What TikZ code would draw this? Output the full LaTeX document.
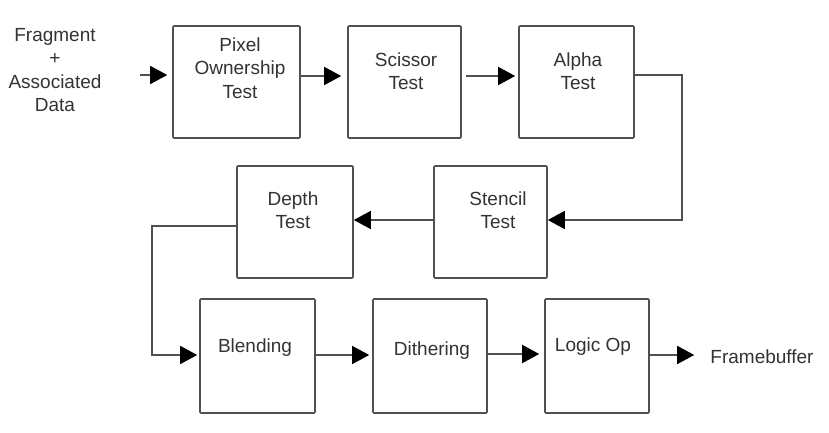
\documentclass[tikz,border=0pt]{standalone}
\usepackage{fontspec}
\setmainfont{Liberation Sans}
\usetikzlibrary{arrows.meta}
\definecolor{boxline}{HTML}{505050}
\definecolor{txt}{HTML}{333333}
\tikzset{
  stage/.style={draw=boxline, line width=1.6pt, rounded corners=1pt, minimum height=112pt, inner sep=0pt},
  lbl/.style={text=txt, font=\fontsize{19}{23.5}\selectfont, align=center, inner sep=2pt},
  arr/.style={draw=boxline, line width=1.5pt, -{Triangle[length=17pt,width=18pt,color=black,fill=black]}}
}
\begin{document}
\begin{tikzpicture}[x=1pt,y=-1pt]
\useasboundingbox[fill=white] (0,0) rectangle (829,433);
% boxes
\node[stage, minimum width=127pt] (pix) at (236.5,82) {};
\node[stage, minimum width=113pt] (sci) at (404.5,82) {};
\node[stage, minimum width=115pt] (alp) at (576.5,82) {};
\node[stage, minimum width=113pt] (ste) at (490.5,222) {};
\node[stage, minimum width=116pt] (dep) at (295,222) {};
\node[stage, minimum width=115pt, minimum height=114pt] (ble) at (257.5,356) {};
\node[stage, minimum width=114pt, minimum height=114pt] (dit) at (430,356) {};
\node[stage, minimum width=104pt, minimum height=114pt] (log) at (597,356) {};
% labels
\node[lbl] (frag) at (55,70) {Fragment\\+\\Associated\\Data};
\node[lbl] (tpix) at (240,68) {Pixel\\Ownership\\Test};
\node[lbl] (tsci) at (406,71) {Scissor\\Test};
\node[lbl] (talp) at (578,71) {Alpha\\Test};
\node[lbl] (tdep) at (293,210) {Depth\\Test};
\node[lbl] (tste) at (498,210) {Stencil\\Test};
\node[lbl] (tble) at (255,348) {Blending};
\node[lbl] (tdit) at (432,351) {Dithering};
\node[lbl] (tlog) at (593,347) {Logic Op};
\node[lbl] (fb) at (762,357) {Framebuffer};
% connectors
\coordinate (in) at (140,75);
\draw[arr, shorten >=5pt] (in) -- (pix.west |- in);
\draw[arr, shorten >=6pt] (pix.east |- 0,76) -- (sci.west |- 0,76);
\draw[arr, shorten >=3pt] ([xshift=4pt]sci.east |- 0,76) -- (alp.west |- 0,76);
\draw[arr] (alp.east |- 0,75) -- ++(47,0) |- (ste.east |- 0,220);
\draw[arr] (ste.west |- 0,220) -- (dep.east |- 0,220);
\draw[arr, shorten >=2pt] (dep.west |- 0,226) -- ++(-84,0) |- (ble.west |- 0,355);
\draw[arr, shorten >=3pt] (ble.east |- 0,355) -- (dit.west |- 0,355);
\draw[arr, shorten >=5pt] (dit.east |- 0,354) -- (log.west |- 0,354);
\draw[arr, shorten >=14pt] (log.east |- 0,355) -- (fb.west |- 0,355);
\end{tikzpicture}
\end{document}
